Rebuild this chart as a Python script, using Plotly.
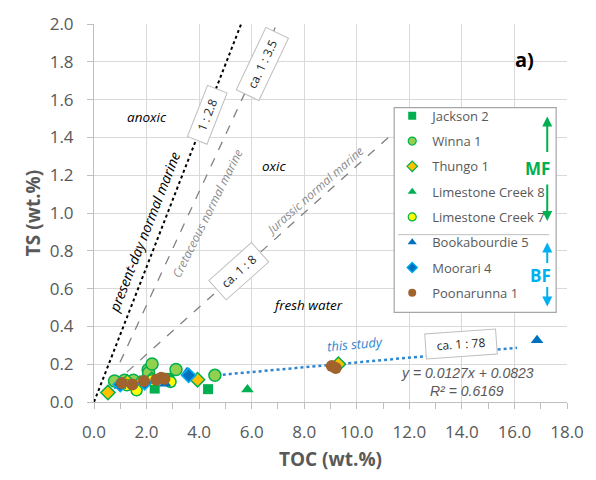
import plotly.graph_objects as go

# ---- sample data: TOC (wt.%) vs TS (wt.%) per well ----
jackson2_toc = [2.31, 2.87, 4.34]
jackson2_ts = [0.071, 0.128, 0.068]

winna1_toc = [0.78, 1.16, 1.50, 2.00, 2.06, 2.08, 2.21, 3.12, 4.60]
winna1_ts = [0.111, 0.115, 0.115, 0.118, 0.170, 0.155, 0.201, 0.172, 0.141]

thungo1_toc = [0.53, 1.27, 1.75, 2.20, 3.94, 9.30]
thungo1_ts = [0.050, 0.106, 0.100, 0.120, 0.118, 0.200]

lc8_toc = [5.84]
lc8_ts = [0.066]

lc7_toc = [1.25, 1.62, 2.20, 2.91]
lc7_ts = [0.088, 0.062, 0.115, 0.106]

book5_toc = [0.99, 2.71, 3.54, 16.86]
book5_ts = [0.085, 0.097, 0.158, 0.327]

moorari4_toc = [1.00, 1.93, 3.60]
moorari4_ts = [0.092, 0.102, 0.141]

poon1_toc = [1.06, 1.46, 1.90, 2.37, 2.56, 2.68, 9.05, 9.20]
poon1_ts = [0.101, 0.092, 0.111, 0.118, 0.128, 0.123, 0.190, 0.180]

# reference C/S lines (TOC, TS end points)
present_day_toc = [0.0, 5.6]
present_day_ts = [0.0, 2.0]
cretaceous_toc = [0.99, 6.96]
cretaceous_ts = [0.21, 2.0]
jurassic_toc = [1.25, 11.2]
jurassic_ts = [0.158, 1.40]

# linear trend of this study
trend_slope = 0.0127
trend_intercept = 0.0823
trend_r2 = 0.6169
trend_toc = [4.9, 16.1]
trend_ts = [trend_slope * t + trend_intercept for t in trend_toc]

x_ticks = [0, 2, 4, 6, 8, 10, 12, 14, 16, 18]
y_ticks = [0.0, 0.2, 0.4, 0.6, 0.8, 1.0, 1.2, 1.4, 1.6, 1.8, 2.0]

GREEN = "#00B050"
LGREEN = "#92D050"
BLUE = "#0070C0"
SKY = "#00B0F0"
BROWN = "#A0632C"
GOLD = "#FFC000"
YELLOW = "#FFFF00"
GRAY_TXT = "#595959"
FONT = "Open Sans"

series = [
    ("Jackson 2", jackson2_toc, jackson2_ts, "square", GREEN, GREEN, 10),
    ("Winna 1", winna1_toc, winna1_ts, "circle", LGREEN, GREEN, 12),
    ("Thungo 1", thungo1_toc, thungo1_ts, "diamond", GOLD, GREEN, 11),
    ("Limestone Creek 8", lc8_toc, lc8_ts, "triangle-up", GREEN, GREEN, 11),
    ("Limestone Creek 7", lc7_toc, lc7_ts, "circle", YELLOW, GREEN, 11),
    ("Bookabourdie 5", book5_toc, book5_ts, "triangle-up", BLUE, BLUE, 11),
    ("Moorari 4", moorari4_toc, moorari4_ts, "diamond", BLUE, SKY, 11),
    ("Poonarunna 1", poon1_toc, poon1_ts, "circle", BROWN, BROWN, 12),
]

fig = go.Figure()

# reference lines
fig.add_trace(go.Scatter(x=present_day_toc, y=present_day_ts, mode="lines",
                         line=dict(color="black", width=2, dash="dot"),
                         showlegend=False, hoverinfo="skip"))
fig.add_trace(go.Scatter(x=cretaceous_toc, y=cretaceous_ts, mode="lines",
                         line=dict(color="#808080", width=1.3, dash="dash"),
                         showlegend=False, hoverinfo="skip"))
fig.add_trace(go.Scatter(x=jurassic_toc, y=jurassic_ts, mode="lines",
                         line=dict(color="#808080", width=1.3, dash="dash"),
                         showlegend=False, hoverinfo="skip"))
fig.add_trace(go.Scatter(x=trend_toc, y=trend_ts, mode="lines",
                         line=dict(color="#2E86D0", width=2.5, dash="dot"),
                         showlegend=False, hoverinfo="skip"))

# well data
for name, xs, ys, sym, fill, edge, size in series:
    fig.add_trace(go.Scatter(
        x=xs, y=ys, mode="markers", name=name, showlegend=False,
        marker=dict(symbol=sym, color=fill, size=size,
                    line=dict(color=edge, width=1.5 if edge != fill else 0)),
    ))

# legend entries with smaller symbols
for i, (name, xs, ys, sym, fill, edge, size) in enumerate(series):
    fig.add_trace(go.Scatter(
        x=[None], y=[None], mode="markers", name=name, legendgroup=f"g{i}",
        marker=dict(symbol=sym, color=fill, size=8,
                    line=dict(color=edge, width=1.2 if edge != fill else 0)),
    ))

# plot-area geometry in pixels (for paper placement of legend extras)
L, R, T, B = 94, 573, 18, 402


def px(x):
    return (x - L) / (R - L)


def py(y):
    return (B - y) / (B - T)


shapes = [
    # legend frame
    dict(type="rect", xref="paper", yref="paper", x0=px(398), x1=px(562),
         y0=py(311), y1=py(103), line=dict(color="#A6A6A6", width=1.2),
         fillcolor="white", layer="above"),
    # separator between MF and BF
    dict(type="line", xref="paper", yref="paper", x0=px(402), x1=px(555),
         y0=py(232), y1=py(232), line=dict(color="#BFBFBF", width=1),
         layer="above"),
]

ann = []


def box_label(x, y, text, angle, w, h):
    ann.append(dict(x=x, y=y, xref="x", yref="y", text=text, showarrow=False,
                    textangle=angle, width=w, height=h, bgcolor="white",
                    bordercolor="#BFBFBF", borderwidth=1, borderpad=0,
                    font=dict(family=FONT, size=12, color="#262626")))


def free_label(x, y, text, angle=0, size=14, color="black"):
    ann.append(dict(x=x, y=y, xref="x", yref="y", text=text, showarrow=False,
                    textangle=angle,
                    font=dict(family=FONT, size=size, color=color, style="italic")))


box_label(4.3, 1.52, "1 : 2.8", -68.6, 54, 20)
box_label(6.4, 1.79, "ca. 1 : 3.5", -64.6, 68, 24)
box_label(5.5, 0.69, "ca. 1 : 8", -41.7, 56, 25)
box_label(13.95, 0.307, "ca. 1 : 78", -4, 70, 24)

free_label(2.0, 1.51, "anoxic", size=13.5)
free_label(6.85, 1.25, "oxic", size=13.5)
free_label(8.13, 0.515, "fresh water", size=13.5)
free_label(1.93, 0.90, "present-day normal marine", -68.6, 14)
free_label(4.3, 1.0, "Cretaceous normal marine", -63.5, 12, "#8C8C8C")
free_label(8.4, 1.12, "Jurassic normal marine", -41.7, 12, "#8C8C8C")
free_label(9.93, 0.307, "this study", -5, 13, "#2E86D0")

ann.append(dict(x=14.2, y=0.151, xref="x", yref="y", showarrow=False,
                text=f"y = {trend_slope}x + {trend_intercept}",
                font=dict(family="Liberation Sans", size=14, color=GRAY_TXT, style="italic")))
ann.append(dict(x=14.2, y=0.057, xref="x", yref="y", showarrow=False,
                text=f"R² = {trend_r2}",
                font=dict(family="Liberation Sans", size=14, color=GRAY_TXT, style="italic")))

ann.append(dict(x=16.4, y=1.81, xref="x", yref="y", showarrow=False, text="<b>a)</b>",
                font=dict(family=FONT, size=20, color="black")))

# MF / BF group tags with arrows
ann.append(dict(x=px(543), y=py(165), xref="paper", yref="paper", showarrow=False,
                xanchor="center", yanchor="middle",
                text="<b>MF</b>", font=dict(family=FONT, size=17, color=GREEN)))
ann.append(dict(x=px(546), y=py(273), xref="paper", yref="paper", showarrow=False,
                xanchor="center", yanchor="middle",
                text="<b>BF</b>", font=dict(family=FONT, size=17, color=SKY)))


def arrow(x, y_head, y_tail, color):
    ann.append(dict(x=px(x), y=py(y_head), xref="paper", yref="paper",
                    ax=0, ay=y_tail - y_head, text="", showarrow=True,
                    arrowhead=2, arrowsize=1, arrowwidth=2, arrowcolor=color))


arrow(553, 112, 149, GREEN)
arrow(553, 218, 180, GREEN)
arrow(553, 240, 262, SKY)
arrow(553, 305, 284, SKY)

fig.update_layout(
    width=596, height=480,
    margin=dict(l=L, r=596 - R, t=T, b=480 - B),
    paper_bgcolor="white", plot_bgcolor="white",
    font=dict(family=FONT, color=GRAY_TXT),
    shapes=shapes, annotations=ann,
    legend=dict(x=px(396), y=py(96), xanchor="left", yanchor="top",
                bgcolor="rgba(0,0,0,0)", borderwidth=0,
                font=dict(family=FONT, size=13, color=GRAY_TXT),
                tracegroupgap=5.4, itemclick=False),
)

fig.update_xaxes(
    range=[0, 18], tickvals=x_ticks, ticktext=[f"{v:.1f}" for v in x_ticks],
    showgrid=True, gridcolor="#D9D9D9", gridwidth=1, zeroline=False,
    showline=True, linecolor="#BFBFBF", linewidth=1,
    ticks="outside", ticklen=6, tickcolor="#BFBFBF",
    minor=dict(dtick=1, ticks="outside", ticklen=6, tickcolor="#BFBFBF", showgrid=False),
    tickfont=dict(family=FONT, size=17, color=GRAY_TXT),
    ticklabelstandoff=9,
    title=dict(text="<b>TOC (wt.%)</b>", font=dict(family=FONT, size=19, color=GRAY_TXT),
               standoff=10),
)
fig.update_yaxes(
    range=[0, 2.0], tickvals=y_ticks, ticktext=[f"{v:.1f}" for v in y_ticks],
    showgrid=True, gridcolor="#D9D9D9", gridwidth=1, zeroline=False,
    showline=True, linecolor="#BFBFBF", linewidth=1,
    ticks="outside", ticklen=6, tickcolor="#BFBFBF",
    tickfont=dict(family=FONT, size=17, color=GRAY_TXT),
    ticklabelstandoff=10,
    title=dict(text="<b>TS (wt.%)</b>", font=dict(family=FONT, size=19, color=GRAY_TXT),
               standoff=4),
)

fig.write_html("out.html")
